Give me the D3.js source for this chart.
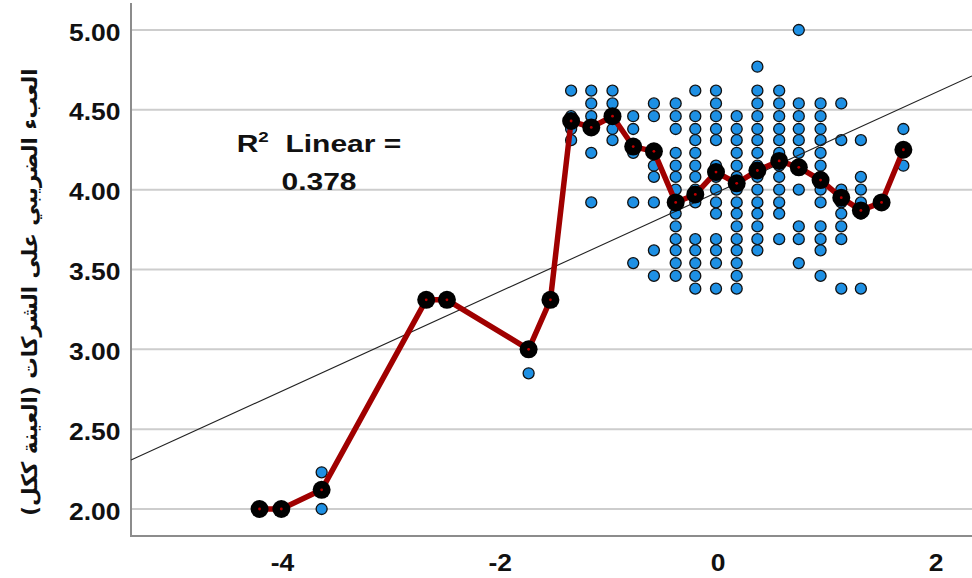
<!DOCTYPE html>
<html>
<head>
<meta charset="utf-8">
<script src="https://cdn.jsdelivr.net/npm/d3@7"></script>
<style>
  html, body { margin: 0; padding: 0; background: #fff; }
  svg { display: block; }
</style>
</head>
<body>
<svg id="chart" width="972" height="578"></svg>
<script>
// ---------------- data ----------------
const yTicks = [2.00, 2.50, 3.00, 3.50, 4.00, 4.50, 5.00];
const xTicks = [-4, -2, 0, 2];
const yTitle = "العبء الضريبي على الشركات (العينة ككل)";
const r2Label = "0.378";

// x positions of the observation columns
const columnX = [-4.21, -4.01, -3.64, -2.68, -2.49, -1.74, -1.54,
  -1.35, -1.165, -0.97, -0.78, -0.59, -0.39, -0.21, -0.02, 0.17, 0.36,
  0.56, 0.74, 0.94, 1.13, 1.31, 1.50, 1.70];

// observed values in each column (blue points)
const columnValues = [
  [2.00],
  [2.00],
  [2.00, 2.23],
  [3.31],
  [3.31],
  [3.00, 2.85],
  [3.31],
  [4.62, 4.46, 4.38, 4.31],
  [4.62, 4.54, 4.46, 4.38, 4.23, 3.92],
  [4.62, 4.54, 4.46, 4.38, 4.31],
  [4.46, 4.38, 4.23, 3.92, 3.54],
  [4.54, 4.46, 4.15, 4.08, 3.92, 3.62, 3.46],
  [4.54, 4.46, 4.38, 4.23, 4.15, 4.08, 4.00, 3.92, 3.85, 3.77, 3.69, 3.62, 3.54, 3.46],
  [4.62, 4.46, 4.38, 4.31, 4.23, 4.15, 4.08, 4.00, 3.92, 3.69, 3.62, 3.54, 3.46, 3.38],
  [4.62, 4.54, 4.46, 4.38, 4.31, 4.15, 4.08, 4.00, 3.92, 3.85, 3.69, 3.62, 3.54, 3.38],
  [4.46, 4.38, 4.31, 4.23, 4.15, 4.08, 4.00, 3.92, 3.85, 3.77, 3.69, 3.62, 3.54, 3.46, 3.38],
  [4.77, 4.62, 4.54, 4.46, 4.38, 4.31, 4.23, 4.15, 4.08, 4.00, 3.92, 3.85, 3.77, 3.69, 3.62],
  [4.62, 4.54, 4.46, 4.38, 4.31, 4.23, 4.15, 4.08, 4.00, 3.92, 3.85, 3.69],
  [5.00, 4.54, 4.46, 4.38, 4.31, 4.23, 4.15, 4.00, 3.77, 3.69, 3.54],
  [4.54, 4.46, 4.38, 4.31, 4.23, 4.15, 4.08, 4.00, 3.92, 3.77, 3.69, 3.62, 3.46],
  [4.54, 4.31, 4.00, 3.92, 3.85, 3.77, 3.69, 3.38],
  [4.31, 4.08, 4.00, 3.92, 3.85, 3.38],
  [3.92],
  [4.38, 4.15]
];

// column means (red line with black markers)
const columnMeans = [2.00, 2.00, 2.12, 3.31, 3.31, 3.00, 3.31,
  4.43, 4.39, 4.46, 4.27, 4.24, 3.92, 3.97, 4.11, 4.04, 4.12,
  4.18, 4.14, 4.06, 3.95, 3.87, 3.92, 4.25];

// linear fit
const fitIntercept = 3.986;
const fitSlope = 0.3116;

// ---------------- layout ----------------
const svg = d3.select("#chart");
const plotLeft = 131, plotRight = 972, plotTop = 3, plotBottom = 536;

const x = d3.scaleLinear().domain([-5.39, 2.33]).range([plotLeft, plotRight]);
const y = d3.scaleLinear().domain([2, 5]).range([509, 30]);

// grid lines
svg.append("g").selectAll("line").data(yTicks).join("line")
  .attr("x1", plotLeft).attr("x2", plotRight)
  .attr("y1", d => y(d)).attr("y2", d => y(d))
  .attr("stroke", "#cdcdcd").attr("stroke-width", 2);

// axes lines
svg.append("line").attr("x1", plotLeft).attr("x2", plotLeft).attr("y1", plotTop).attr("y2", plotBottom)
  .attr("stroke", "#8c8c8c").attr("stroke-width", 2);
svg.append("line").attr("x1", plotLeft - 1).attr("x2", plotRight).attr("y1", plotBottom).attr("y2", plotBottom)
  .attr("stroke", "#8c8c8c").attr("stroke-width", 2);

const tickFont = "Liberation Sans, Arial, sans-serif";

// y tick labels
const fmt = d3.format(".2f");
svg.append("g").selectAll("g").data(yTicks).join("g")
  .attr("transform", d => `translate(120.5,${y(d)}) scale(1.15,1)`)
  .append("text")
  .attr("text-anchor", "end").attr("y", 10.5)
  .attr("font-family", tickFont).attr("font-weight", "bold")
  .attr("font-size", 23).attr("fill", "#111")
  .text(d => fmt(d));

// x tick labels
svg.append("g").selectAll("g").data(xTicks).join("g")
  .attr("transform", d => `translate(${x(d)},571) scale(1.15,1)`)
  .append("text")
  .attr("text-anchor", "middle")
  .attr("font-family", tickFont).attr("font-weight", "bold")
  .attr("font-size", 23).attr("fill", "#111")
  .text(d => d);

// y axis title
svg.append("text")
  .attr("transform", "translate(37,292) rotate(-90)")
  .attr("text-anchor", "middle")
  .attr("font-family", "DejaVu Sans, sans-serif")
  .attr("font-weight", "bold")
  .attr("font-size", 21.5).attr("fill", "#111")
  .attr("direction", "rtl")
  .text(yTitle);

// scatter points
const points = [];
columnX.forEach((cx, i) => columnValues[i].forEach(v => points.push({x: cx, y: v})));
svg.append("g").selectAll("circle").data(points).join("circle")
  .attr("cx", d => x(d.x)).attr("cy", d => y(d.y)).attr("r", 5.5)
  .attr("fill", "#1e90e4").attr("stroke", "#111").attr("stroke-width", 1.3);

// regression line
const xd = x.domain();
svg.append("line")
  .attr("x1", x(xd[0])).attr("y1", y(fitIntercept + fitSlope * xd[0]))
  .attr("x2", x(xd[1])).attr("y2", y(fitIntercept + fitSlope * xd[1]))
  .attr("stroke", "#222").attr("stroke-width", 1.1);

// mean line
const means = columnX.map((cx, i) => ({x: cx, y: columnMeans[i]}));
svg.append("path").datum(means)
  .attr("d", d3.line().x(d => x(d.x)).y(d => y(d.y)))
  .attr("fill", "none").attr("stroke", "#a00000").attr("stroke-width", 5.5)
  .attr("stroke-linejoin", "round");

svg.append("g").selectAll("circle").data(means).join("circle")
  .attr("cx", d => x(d.x)).attr("cy", d => y(d.y)).attr("r", 9)
  .attr("fill", "#000");
svg.append("g").selectAll("circle").data(means).join("circle")
  .attr("cx", d => x(d.x)).attr("cy", d => y(d.y)).attr("r", 1.4)
  .attr("fill", "#c00000");

// annotation
const ann = svg.append("g").attr("transform", "translate(319,152) scale(1.25,1)");
const t1 = ann.append("text").attr("text-anchor", "middle")
  .attr("font-family", tickFont)
  .attr("font-weight", "bold").attr("font-size", 24).attr("fill", "#111");
t1.append("tspan").text("R");
t1.append("tspan").attr("font-size", 15).attr("dy", -10).text("2");
t1.append("tspan").attr("dy", 10).text("\u00A0 Linear =");
ann.append("text").attr("text-anchor", "middle").attr("y", 38)
  .attr("font-family", tickFont)
  .attr("font-weight", "bold").attr("font-size", 24).attr("fill", "#111")
  .text(r2Label);
</script>
</body>
</html>
